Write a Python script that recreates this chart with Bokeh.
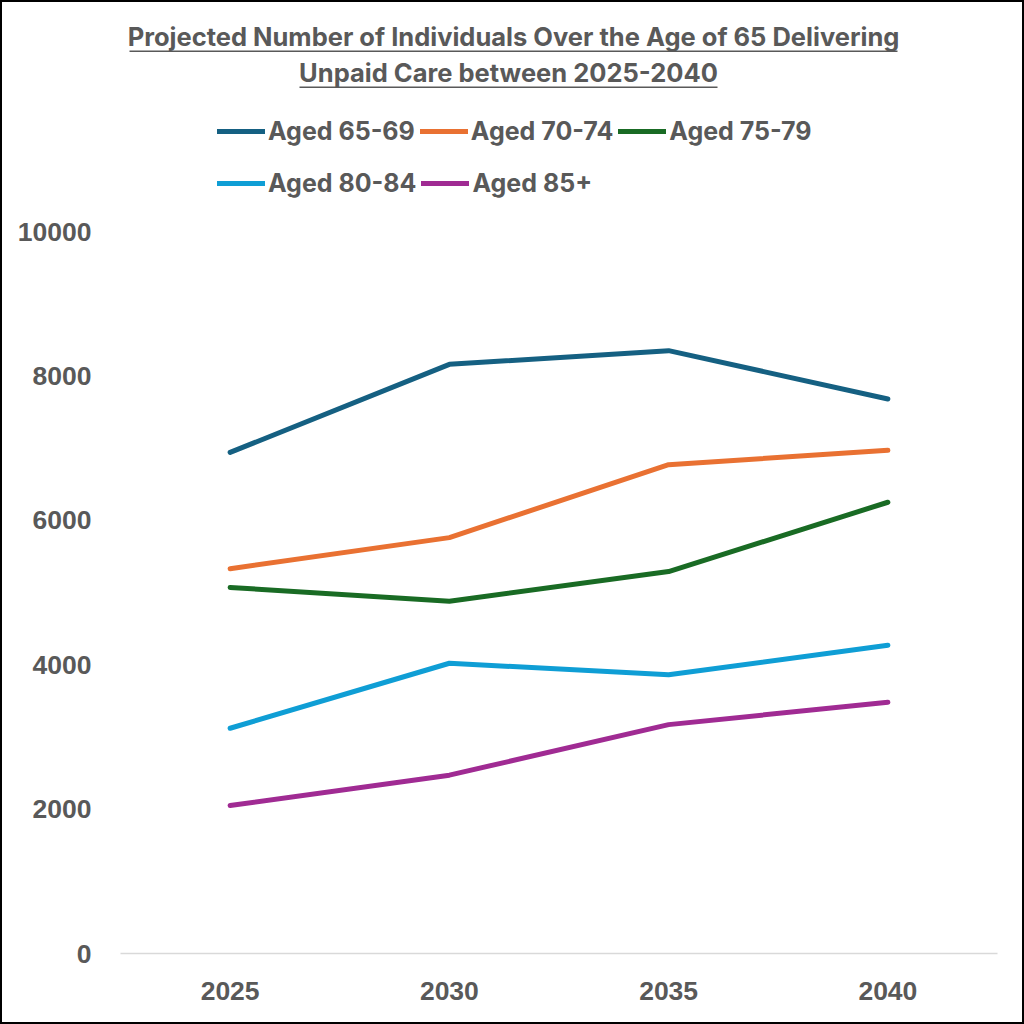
from bokeh.plotting import figure
from bokeh.models import (FactorRange, Range1d, FixedTicker, Legend, LegendItem,
                          Label, BoxAnnotation, InlineStyleSheet)
from bokeh.embed import file_html
from bokeh.resources import INLINE

# Projected carers aged 65+ by age band
years = ["2025", "2030", "2035", "2040"]
aged_65_69 = [6940, 8160, 8350, 7680]
aged_70_74 = [5330, 5760, 6770, 6970]
aged_75_79 = [5070, 4880, 5290, 6250]
aged_80_84 = [3120, 4020, 3860, 4270]
aged_85_plus = [2050, 2470, 3170, 3480]

series_names = ["Aged 65-69", "Aged 70-74", "Aged 75-79", "Aged 80-84", "Aged 85+"]
series_values = [aged_65_69, aged_70_74, aged_75_79, aged_80_84, aged_85_plus]
colors = ["#156082", "#E97132", "#196B24", "#0F9ED5", "#A02B93"]

y_ticks = [0, 2000, 4000, 6000, 8000, 10000]

title_lines = ["Projected Number of Individuals Over the Age of 65 Delivering",
               "Unpaid Care between 2025-2040"]

TEXT = "#595959"
W = H = 1024

# pixel layout of the plotting area
FRAME_L, FRAME_R, FRAME_B = 120, 997, 953
Y_TOP_TICK = 231                # where 10000 sits

# the frame runs up to the top of the canvas so the header can live inside it
y_end = y_ticks[-1] * FRAME_B / (FRAME_B - Y_TOP_TICK)


def sx(px):
    """Canvas x -> screen x measured from the frame's left edge."""
    return px - FRAME_L


def sy(py):
    """Canvas y (from top) -> screen y measured up from the frame bottom."""
    return FRAME_B - py


p = figure(width=W, height=H, x_range=FactorRange(*years, range_padding=0),
           y_range=Range1d(0, y_end), output_backend="svg", toolbar_location=None,
           min_border_left=FRAME_L, min_border_right=W - FRAME_R,
           min_border_top=0, min_border_bottom=H - FRAME_B)
# thin black frame round the whole chart, drawn above the canvas
p.stylesheets = [InlineStyleSheet(css="""
:host { position: relative; }
:host::after {
  content: ""; position: absolute; left: 0; top: 0; right: 0; bottom: 0;
  border: 2px solid black; box-sizing: border-box;
  pointer-events: none; z-index: 100;
}
""")]
p.outline_line_color = None
p.background_fill_color = "white"
p.border_fill_color = "white"
p.grid.visible = False

# axes
p.yaxis.ticker = FixedTicker(ticks=y_ticks)
p.yaxis.axis_line_color = None
p.yaxis.major_tick_line_color = None
p.yaxis.minor_tick_line_color = None
p.yaxis.major_label_standoff = 23
p.xaxis.axis_line_color = "#D9D9D9"
p.xaxis.axis_line_width = 1.5
p.xaxis.major_tick_line_color = None
p.xaxis.minor_tick_line_color = None
p.xaxis.major_label_standoff = 22
for ax in (p.xaxis, p.yaxis):
    ax.major_label_text_font = "Liberation Sans"
    ax.major_label_text_font_style = "bold"
    ax.major_label_text_font_size = "26.5px"
    ax.major_label_text_color = TEXT

renderers = []
for name, vals, col in zip(series_names, series_values, colors):
    r = p.line(years, vals, line_color=col, line_width=5,
               line_cap="round", line_join="round")
    renderers.append(r)

items = [LegendItem(label=n, renderers=[r]) for n, r in zip(series_names, renderers)]


def make_legend(its, bottom_y):
    lg = Legend(items=its, orientation="horizontal",
                location=(sx(217), sy(bottom_y)))
    lg.padding = 0
    lg.margin = 0
    lg.spacing = 5
    lg.glyph_width = 48
    lg.glyph_height = 20
    lg.label_standoff = 3
    lg.label_height = 20
    lg.border_line_color = None
    lg.background_fill_alpha = 0
    lg.label_text_font = "Inter"
    lg.label_text_font_style = "bold"
    lg.label_text_font_size = "25px"
    lg.label_text_color = TEXT
    return lg


p.add_layout(make_legend(items[:3], 146))
p.add_layout(make_legend(items[3:], 198))

# two-line underlined title
title_size = 25.5
title_rows = [
    # text, y anchor, underline y, centre x, underline width
    (title_lines[0], 36, 50, 513, 768),
    (title_lines[1], 72, 86, 508, 418),
]
for text, anchor_y, line_y, cx, uw in title_rows:
    p.add_layout(Label(x=sx(cx), y=sy(anchor_y), x_units="screen", y_units="screen",
                       text=text, text_align="center", text_baseline="alphabetic",
                       text_font="Inter", text_font_style="bold",
                       text_font_size=f"{title_size}px", text_color=TEXT))
    p.add_layout(BoxAnnotation(left=sx(cx - uw / 2), right=sx(cx + uw / 2),
                               top=sy(line_y), bottom=sy(line_y + 1.5),
                               left_units="screen", right_units="screen",
                               top_units="screen", bottom_units="screen",
                               fill_color=TEXT, fill_alpha=1, line_color=None,
                               level="overlay"))

open("out.html", "w").write(file_html(p, INLINE))
